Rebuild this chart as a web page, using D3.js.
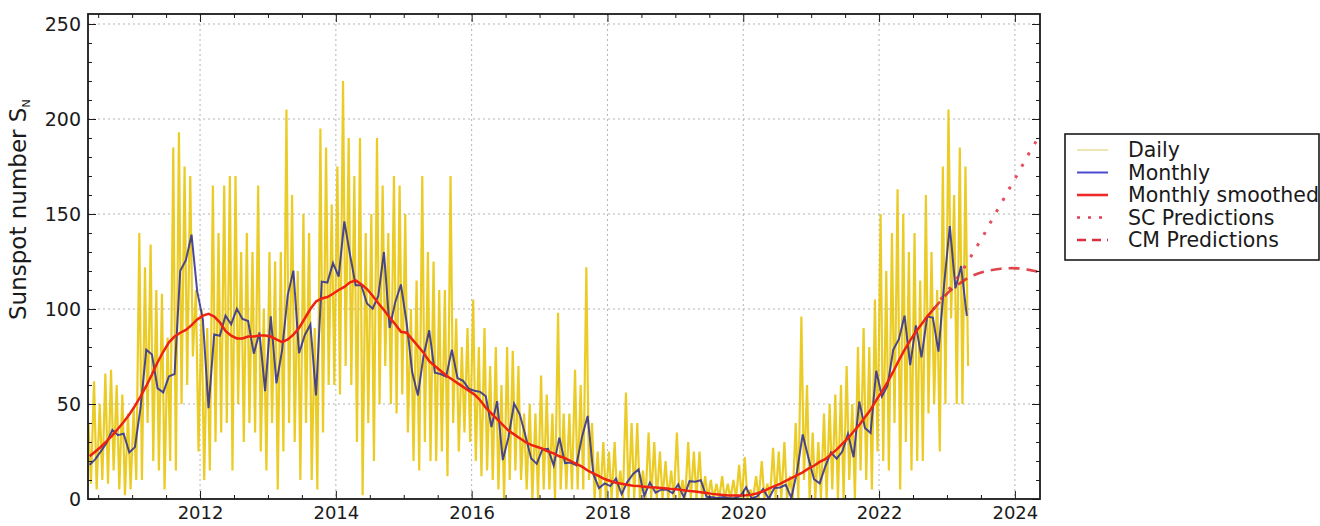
<!DOCTYPE html>
<html>
<head>
<meta charset="utf-8">
<script src="https://cdn.jsdelivr.net/npm/d3@7"></script>
<style>
  body { margin: 0; background: #fff; }
  svg { display: block; font-family: 'DejaVu Sans', sans-serif; }
</style>
</head>
<body>
<script>
// series start in May 2010, one value per month
const START_YEAR = 2010;
const START_MONTH = 4; // 0-based month index, 4 = May

// monthly mean sunspot number, May 2010 .. Apr 2023
const monthly = [
  18, 21, 25.2, 29.6, 36.4, 33.6, 34.4, 24.5,
  27.3, 48.3, 78.6, 76.1, 58.2, 56.1, 64.5, 65.8, 120.1, 125.7, 139.1, 109.3,
  94.4, 47.8, 86.6, 85.9, 96.5, 92.0, 100.1, 94.8, 93.7, 76.5, 87.6, 56.8,
  96.1, 60.9, 78.3, 107.3, 120.2, 76.7, 86.2, 91.8, 54.5, 114.4, 113.9, 124.2,
  117.0, 146.1, 128.7, 112.5, 112.5, 102.9, 100.2, 106.9, 130.0, 90.0, 103.6, 112.9,
  93.0, 66.7, 54.5, 75.3, 88.8, 66.5, 65.8, 64.4, 78.6, 63.6, 62.2, 58.0,
  57.0, 56.4, 54.1, 37.9, 51.5, 20.5, 32.4, 50.2, 44.6, 33.4, 21.4, 18.5,
  26.1, 26.4, 17.7, 32.3, 18.9, 19.2, 17.8, 32.6, 43.7, 13.2, 5.7, 8.2,
  6.8, 10.7, 2.5, 8.9, 13.1, 15.6, 1.6, 8.7, 3.3, 4.9, 4.9, 3.1,
  7.7, 0.8, 9.4, 9.1, 9.9, 1.2, 0.9, 0.5, 1.1, 0.4, 0.5, 1.5,
  6.2, 0.2, 1.5, 5.2, 0.2, 5.8, 6.1, 7.5, 0.6, 14.4, 34.0, 21.8,
  10.4, 8.2, 17.2, 24.5, 21.2, 25.0, 34.3, 22.0, 51.3, 37.4, 34.8, 67.5,
  54.0, 59.7, 78.5, 84.1, 96.5, 70.5, 91.4, 74.6, 96.0, 95.5, 77.6, 113.1,
  143.6, 110.9, 122.6, 96.4
];

// 13-month smoothed, May 2010 .. Oct 2022
const smoothed = [
  22.5, 25, 27.5, 30.5, 33.5, 37, 40.5, 44.5,
  49, 54, 59.5, 65.5, 72, 77.5, 82.5, 85.5, 87.5, 89, 91.5, 94.5,
  96.5, 97.5, 96, 93, 88.5, 86, 84.5, 84.5, 85.5, 85.5, 86, 86,
  85.5, 84, 82.6, 84, 86.5, 90, 95, 100, 104, 105.5, 106.3, 108,
  110, 111.6, 114, 115, 113, 110.5, 107, 103, 99.5, 95.5, 92, 88,
  87.5, 84, 80.5, 77, 72.5, 70, 67.5, 65, 63, 61, 59, 57,
  55, 52, 48, 45, 42, 39, 36, 34, 32, 30, 28.5, 27.5,
  26.5, 25, 24, 22.5, 21.5, 20, 18.5, 17, 15, 13.5, 12, 10.5,
  9.5, 8.5, 8, 7.5, 7, 6.8, 6.5, 6.2, 6, 5.8, 5.5, 5.2,
  5, 4.6, 4.2, 3.9, 3.5, 3.1, 2.7, 2.4, 2.1, 1.9, 1.8, 1.8,
  2, 2.3, 3, 4, 5.5, 6.8, 8, 9.5, 11, 12.5, 14, 16,
  17.5, 19.5, 21, 23.5, 26, 29, 32, 35.5, 39, 43, 47, 52,
  56.5, 61.5, 67, 73, 78.5, 83.5, 88, 92, 96, 99.5
];

// highest and lowest daily values seen in each month, May 2010 .. Apr 2023
const dailyHigh = [
  40, 62, 50, 66, 68, 60, 55, 45,
  48, 140, 122, 134, 110, 108, 85, 185, 193, 175, 170, 110,
  100, 90, 165, 140, 165, 170, 170, 130, 140, 130, 165, 100,
  130, 125, 130, 205, 160, 120, 150, 140, 90, 195, 185, 155,
  175, 220, 190, 170, 190, 140, 150, 190, 165, 140, 170, 165,
  150, 100, 115, 170, 130, 125, 110, 110, 170, 95, 80, 90,
  105, 80, 90, 70, 80, 60, 80, 78, 70, 45, 50, 45,
  65, 55, 45, 98, 45, 45, 68, 60, 122, 40, 25, 30,
  25, 30, 15, 56, 40, 40, 15, 35, 30, 25, 20, 15,
  35, 10, 30, 25, 25, 12, 10, 8, 12, 8, 10, 18,
  22, 5, 12, 20, 8, 27, 25, 30, 12, 40, 96, 60,
  35, 30, 45, 50, 55, 60, 70, 50, 80, 90, 80, 105,
  150, 120, 140, 163, 150, 130, 140, 115, 160, 130, 110, 175,
  205, 160, 185, 175
];
const dailyLow = [
  8, 5, 10, 8, 15, 5, 2, 5,
  10, 10, 40, 20, 15, 5, 20, 15, 50, 60, 75, 25,
  10, 15, 30, 35, 40, 15, 50, 30, 40, 35, 25, 15,
  40, 5, 25, 40, 30, 10, 40, 10, 5, 35, 60, 60,
  55, 70, 60, 30, 2, 40, 20, 50, 70, 50, 45, 55,
  35, 20, 15, 30, 20, 20, 25, 12, 40, 25, 35, 30,
  20, 12, 15, 10, 5, 0, 10, 15, 10, 5, 0, 0,
  5, 5, 0, 5, 5, 5, 5, 5, 10, 0, 0, 0,
  0, 0, 0, 0, 0, 0, 0, 0, 0, 0, 0, 0,
  0, 0, 0, 0, 0, 0, 0, 0, 0, 0, 0, 0,
  0, 0, 0, 0, 0, 0, 0, 0, 0, 0, 10, 0,
  0, 0, 0, 5, 0, 0, 10, 0, 15, 10, 5, 25,
  20, 15, 40, 5, 30, 15, 20, 20, 45, 50, 25, 50,
  95, 50, 50, 70
];

// predictions, Oct 2022 .. May 2024 (start at the last smoothed month)
const PRED_START = 149;
const scPred = [
  99.5, 103.5, 107.5, 111, 115, 119, 124, 129, 134, 139,
  144.5, 150, 155, 160.5, 166, 171, 176.5, 182, 187, 192
];
const cmPred = [
  99.5, 103, 106.5, 109.5, 112, 114, 116, 117.5, 118.7, 119.6,
  120.3, 120.8, 121.2, 121.4, 121.5, 121.4, 121.1, 120.6, 120, 119.3
];

const yTicks = [0, 50, 100, 150, 200, 250];
const xTicks = [2012, 2014, 2016, 2018, 2020, 2022, 2024];

const WIDTH = 1320, HEIGHT = 526;
const PLOT = { left: 88, right: 1040, top: 14, bottom: 499 };

const COLORS = {
  daily: '#e8c300',
  monthly: '#2b2b8f',
  smoothed: '#ee2211',
  sc: '#e0303f',
  cm: '#d8242e',
  grid: '#b4b4b4',
  ink: '#1a1a1a'
};

// decimal year of a month index, frac = position inside the month
function monthTime(i, frac) {
  return START_YEAR + (START_MONTH + i + frac) / 12;
}

let x = d3.scaleLinear().domain([2010.35, 2024.37]).range([PLOT.left, PLOT.right]);
let y = d3.scaleLinear().domain([0, 255.26]).range([PLOT.bottom, PLOT.top]);

let svg = d3.select('body')
  .append('svg')
  .attr('width', WIDTH)
  .attr('height', HEIGHT);

svg.append('defs')
  .append('clipPath')
  .attr('id', 'plot-clip')
  .append('rect')
  .attr('x', PLOT.left)
  .attr('y', PLOT.top)
  .attr('width', PLOT.right - PLOT.left)
  .attr('height', PLOT.bottom - PLOT.top);

// grid
let grid = svg.append('g').attr('class', 'grid');
grid.selectAll('.gx')
  .data(xTicks)
  .enter()
  .append('line')
  .attr('x1', d => x(d)).attr('x2', d => x(d))
  .attr('y1', PLOT.top).attr('y2', PLOT.bottom)
  .attr('stroke', COLORS.grid)
  .attr('stroke-dasharray', '2,3');
grid.selectAll('.gy')
  .data(yTicks.filter(d => d > 0))
  .enter()
  .append('line')
  .attr('x1', PLOT.left).attr('x2', PLOT.right)
  .attr('y1', d => y(d)).attr('y2', d => y(d))
  .attr('stroke', COLORS.grid)
  .attr('stroke-dasharray', '2,3');

let line = d3.line()
  .x(d => x(d[0]))
  .y(d => y(d[1]));

let series = svg.append('g').attr('clip-path', 'url(#plot-clip)');

// daily: zig-zag between the high and low of each month
let dailyPoints = [];
dailyHigh.forEach((hi, i) => {
  dailyPoints.push([monthTime(i, 0.27), hi]);
  dailyPoints.push([monthTime(i, 0.73), dailyLow[i]]);
});

series.append('path')
  .attr('d', line(dailyPoints))
  .attr('fill', 'none')
  .attr('stroke', COLORS.daily)
  .attr('stroke-opacity', 0.85)
  .attr('stroke-width', 2.2)
  .attr('stroke-linejoin', 'bevel');

series.append('path')
  .attr('d', line(monthly.map((v, i) => [monthTime(i, 0.5), v])))
  .attr('fill', 'none')
  .attr('stroke', COLORS.monthly)
  .attr('stroke-opacity', 0.85)
  .attr('stroke-width', 2);

series.append('path')
  .attr('d', line(smoothed.map((v, i) => [monthTime(i, 0.5), v])))
  .attr('fill', 'none')
  .attr('stroke', COLORS.smoothed)
  .attr('stroke-width', 2.5);

series.append('path')
  .attr('d', line(scPred.map((v, i) => [monthTime(PRED_START + i, 0.5), v])))
  .attr('fill', 'none')
  .attr('stroke', COLORS.sc)
  .attr('stroke-opacity', 0.85)
  .attr('stroke-width', 3)
  .attr('stroke-dasharray', '3,10');

series.append('path')
  .attr('d', line(cmPred.map((v, i) => [monthTime(PRED_START + i, 0.5), v])))
  .attr('fill', 'none')
  .attr('stroke', COLORS.cm)
  .attr('stroke-opacity', 0.85)
  .attr('stroke-width', 2.6)
  .attr('stroke-dasharray', '11,7');

// axes, ticks pointing inwards on all four sides
let yMinor = d3.range(0, 256, 10).filter(d => d % 50 !== 0);
let xMinor = d3.range(2010.5, 2024.4, 0.5).filter(d => d % 2 !== 0);

function styleAxis(g) {
  g.select('.domain').remove();
  g.selectAll('.tick line').attr('stroke', COLORS.ink);
  g.selectAll('.tick text')
    .attr('fill', COLORS.ink)
    .style('font-size', '19px')
    .style('font-family', "'DejaVu Sans', sans-serif");
}

svg.append('g')
  .attr('transform', 'translate(' + PLOT.left + ',0)')
  .call(d3.axisLeft(y).tickValues(yTicks).tickSizeInner(-8).tickSizeOuter(0).tickPadding(7))
  .call(styleAxis);
svg.append('g')
  .attr('transform', 'translate(' + PLOT.left + ',0)')
  .call(d3.axisLeft(y).tickValues(yMinor).tickSizeInner(-4).tickSizeOuter(0).tickFormat(''))
  .call(styleAxis);
svg.append('g')
  .attr('transform', 'translate(' + PLOT.right + ',0)')
  .call(d3.axisRight(y).tickValues(yTicks).tickSizeInner(-8).tickSizeOuter(0).tickFormat(''))
  .call(styleAxis);
svg.append('g')
  .attr('transform', 'translate(' + PLOT.right + ',0)')
  .call(d3.axisRight(y).tickValues(yMinor).tickSizeInner(-4).tickSizeOuter(0).tickFormat(''))
  .call(styleAxis);

let xAxis = svg.append('g')
  .attr('transform', 'translate(0,' + PLOT.bottom + ')')
  .call(d3.axisBottom(x).tickValues(xTicks).tickSizeInner(-8).tickSizeOuter(0).tickPadding(7).tickFormat(d3.format('d')))
  .call(styleAxis);
// keep the year labels inside the page
xAxis.selectAll('.tick text').style('font-size', '18px');

svg.append('g')
  .attr('transform', 'translate(0,' + PLOT.bottom + ')')
  .call(d3.axisBottom(x).tickValues(xMinor).tickSizeInner(-4).tickSizeOuter(0).tickFormat(''))
  .call(styleAxis);
svg.append('g')
  .attr('transform', 'translate(0,' + PLOT.top + ')')
  .call(d3.axisTop(x).tickValues(xTicks).tickSizeInner(-8).tickSizeOuter(0).tickFormat(''))
  .call(styleAxis);
svg.append('g')
  .attr('transform', 'translate(0,' + PLOT.top + ')')
  .call(d3.axisTop(x).tickValues(xMinor).tickSizeInner(-4).tickSizeOuter(0).tickFormat(''))
  .call(styleAxis);

// frame
svg.append('rect')
  .attr('x', PLOT.left)
  .attr('y', PLOT.top)
  .attr('width', PLOT.right - PLOT.left)
  .attr('height', PLOT.bottom - PLOT.top)
  .attr('fill', 'none')
  .attr('stroke', COLORS.ink)
  .attr('stroke-width', 1.8);

// y label with subscript N
let ylabel = svg.append('text')
  .attr('transform', 'translate(26,320) rotate(-90)')
  .attr('fill', COLORS.ink)
  .style('font-size', '23px');
ylabel.append('tspan').text('Sunspot number S');
ylabel.append('tspan')
  .attr('dy', '0.35em')
  .style('font-size', '11px')
  .text('N');

// legend
const legendItems = [
  { label: 'Daily', color: '#e8df9a', width: 1.5, dash: null },
  { label: 'Monthly', color: '#4a4ad0', width: 2, dash: null },
  { label: 'Monthly smoothed', color: '#ee2a2a', width: 2.6, dash: null },
  { label: 'SC Predictions', color: '#e0405a', width: 2.6, dash: '3,8' },
  { label: 'CM Predictions', color: '#d83040', width: 2.6, dash: '9,6' }
];

let legend = svg.append('g').attr('class', 'legend');
legend.append('rect')
  .attr('x', 1065)
  .attr('y', 134)
  .attr('width', 254)
  .attr('height', 126)
  .attr('fill', '#fff')
  .attr('stroke', COLORS.ink)
  .attr('stroke-width', 1.6);

let rows = legend.selectAll('.row')
  .data(legendItems)
  .enter()
  .append('g')
  .attr('transform', (d, i) => 'translate(0,' + (150 + i * 22.5) + ')');

rows.append('line')
  .attr('x1', 1077).attr('x2', 1108)
  .attr('y1', 0).attr('y2', 0)
  .attr('stroke', d => d.color)
  .attr('stroke-width', d => d.width)
  .attr('stroke-dasharray', d => d.dash);

rows.append('text')
  .attr('x', 1128)
  .attr('dy', '0.35em')
  .attr('fill', COLORS.ink)
  .style('font-size', '20.5px')
  .text(d => d.label);
</script>
</body>
</html>
